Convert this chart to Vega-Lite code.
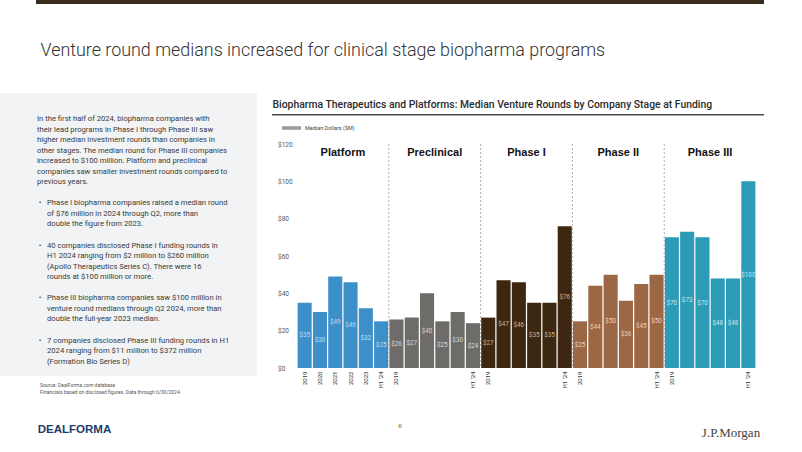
{
  "$schema": "https://vega.github.io/schema/vega-lite/v6.json",
  "background": "white",
  "padding": 0,
  "spacing": 0,
  "config": {"view": {"stroke": null}, "concat": {"spacing": 0}},
  "datasets": {
    "bars": [
      {"stage": "Platform", "period": "2019", "id": "Platform|2019", "value": 35},
      {"stage": "Platform", "period": "2020", "id": "Platform|2020", "value": 30},
      {"stage": "Platform", "period": "2021", "id": "Platform|2021", "value": 49},
      {"stage": "Platform", "period": "2022", "id": "Platform|2022", "value": 46},
      {"stage": "Platform", "period": "2023", "id": "Platform|2023", "value": 32},
      {"stage": "Platform", "period": "H1 '24", "id": "Platform|H1 '24", "value": 25},
      {"stage": "Preclinical", "period": "2019", "id": "Preclinical|2019", "value": 26},
      {"stage": "Preclinical", "period": "2020", "id": "Preclinical|2020", "value": 27},
      {"stage": "Preclinical", "period": "2021", "id": "Preclinical|2021", "value": 40},
      {"stage": "Preclinical", "period": "2022", "id": "Preclinical|2022", "value": 25},
      {"stage": "Preclinical", "period": "2023", "id": "Preclinical|2023", "value": 30},
      {"stage": "Preclinical", "period": "H1 '24", "id": "Preclinical|H1 '24", "value": 24},
      {"stage": "Phase I", "period": "2019", "id": "Phase I|2019", "value": 27},
      {"stage": "Phase I", "period": "2020", "id": "Phase I|2020", "value": 47},
      {"stage": "Phase I", "period": "2021", "id": "Phase I|2021", "value": 46},
      {"stage": "Phase I", "period": "2022", "id": "Phase I|2022", "value": 35},
      {"stage": "Phase I", "period": "2023", "id": "Phase I|2023", "value": 35},
      {"stage": "Phase I", "period": "H1 '24", "id": "Phase I|H1 '24", "value": 76},
      {"stage": "Phase II", "period": "2019", "id": "Phase II|2019", "value": 25},
      {"stage": "Phase II", "period": "2020", "id": "Phase II|2020", "value": 44},
      {"stage": "Phase II", "period": "2021", "id": "Phase II|2021", "value": 50},
      {"stage": "Phase II", "period": "2022", "id": "Phase II|2022", "value": 36},
      {"stage": "Phase II", "period": "2023", "id": "Phase II|2023", "value": 45},
      {"stage": "Phase II", "period": "H1 '24", "id": "Phase II|H1 '24", "value": 50},
      {"stage": "Phase III", "period": "2019", "id": "Phase III|2019", "value": 70},
      {"stage": "Phase III", "period": "2020", "id": "Phase III|2020", "value": 73},
      {"stage": "Phase III", "period": "2021", "id": "Phase III|2021", "value": 70},
      {"stage": "Phase III", "period": "2022", "id": "Phase III|2022", "value": 48},
      {"stage": "Phase III", "period": "2023", "id": "Phase III|2023", "value": 48},
      {"stage": "Phase III", "period": "H1 '24", "id": "Phase III|H1 '24", "value": 100}
    ],
    "stages": [
      {"stage": "Platform"}, {"stage": "Preclinical"}, {"stage": "Phase I"}, {"stage": "Phase II"}, {"stage": "Phase III"}
    ],
    "body": [
      {"line": 0, "indent": 0, "text": "In the first half of 2024, biopharma companies with"},
      {"line": 1, "indent": 0, "text": "their lead programs in Phase I through Phase III saw"},
      {"line": 2, "indent": 0, "text": "higher median investment rounds than companies in"},
      {"line": 3, "indent": 0, "text": "other stages. The median round for Phase III companies"},
      {"line": 4, "indent": 0, "text": "increased to $100 million. Platform and preclinical"},
      {"line": 5, "indent": 0, "text": "companies saw smaller investment rounds compared to"},
      {"line": 6, "indent": 0, "text": "previous years."},
      {"line": 8, "indent": 1, "bullet": "•", "text": "Phase I biopharma companies raised a median round"},
      {"line": 9, "indent": 1, "text": "of $76 million in 2024 through Q2, more than"},
      {"line": 10, "indent": 1, "text": "double the figure from 2023."},
      {"line": 12, "indent": 1, "bullet": "•", "text": "40 companies disclosed Phase I funding rounds in"},
      {"line": 13, "indent": 1, "text": "H1 2024 ranging from $2 million to $260 million"},
      {"line": 14, "indent": 1, "text": "(Apollo Therapeutics Series C). There were 16"},
      {"line": 15, "indent": 1, "text": "rounds at $100 million or more."},
      {"line": 17, "indent": 1, "bullet": "•", "text": "Phase III biopharma companies saw $100 million in"},
      {"line": 18, "indent": 1, "text": "venture round medians through Q2 2024, more than"},
      {"line": 19, "indent": 1, "text": "double the full-year 2023 median."},
      {"line": 21, "indent": 1, "bullet": "•", "text": "7 companies disclosed Phase III funding rounds in H1"},
      {"line": 22, "indent": 1, "text": "2024 ranging from $11 million to $372 million"},
      {"line": 23, "indent": 1, "text": "(Formation Bio Series D)"}
    ]
  },
  "vconcat": [
    {"spacing": 0, "hconcat": [
      {"width": 36, "height": 4, "data": {"values": [{}]}, "mark": {"type": "rect", "opacity": 0}, "encoding": {}},
      {"width": 728, "height": 4, "data": {"values": [{}]}, "mark": {"type": "rect", "color": "#3a2c1c"}, "encoding": {}}
    ]},
    {"spacing": 0, "hconcat": [
      {"width": 40, "height": 89, "data": {"values": [{}]}, "mark": {"type": "rect", "opacity": 0}, "encoding": {}},
      {"width": 1, "height": 89, "data": {"values": [{"t": "Venture round medians increased for clinical stage biopharma programs"}]},
       "mark": {"type": "text", "align": "left", "baseline": "middle", "dy": 2.2, "font": "Roboto", "fontSize": 17.9, "fontWeight": 300, "color": "#333333"},
       "encoding": {"text": {"field": "t"}}}
    ]},
    {"spacing": 0, "hconcat": [
      {"width": 257, "height": 305,
       "layer": [
         {"data": {"values": [{}]},
          "mark": {"type": "rect", "color": "#f2f3f4"},
          "encoding": {
            "x": {"datum": -3.7, "type": "quantitative", "scale": {"domain": [-3.7, 22], "nice": false, "zero": false}, "axis": null},
            "x2": {"datum": 22},
            "y": {"datum": -2.46, "type": "quantitative", "scale": {"domain": [-2.46, 26.45], "nice": false, "zero": false, "reverse": true}, "axis": null},
            "y2": {"datum": 24.36}
          }},
         {"data": {"name": "body"},
          "mark": {"type": "text", "align": "left", "baseline": "middle", "font": "Roboto", "fontSize": 7.65, "color": "#3a3a3a"},
          "encoding": {
            "x": {"field": "indent", "type": "quantitative"},
            "y": {"field": "line", "type": "quantitative"},
            "text": {"field": "text"}
          }},
         {"data": {"name": "body"},
          "transform": [{"filter": "datum.bullet"}],
          "mark": {"type": "text", "align": "center", "baseline": "middle", "font": "Roboto", "fontSize": 7.65, "color": "#3a3a3a"},
          "encoding": {
            "x": {"datum": 0.3, "type": "quantitative"},
            "y": {"field": "line", "type": "quantitative"},
            "text": {"field": "bullet"}
          }},
         {"data": {"values": [{"line": 25, "text": ["Source: DealForma.com database", "Financials based on disclosed figures. Data through 6/30/2024."]}]},
          "mark": {"type": "text", "align": "left", "baseline": "top", "font": "Roboto", "fontSize": 5, "lineHeight": 7.4, "color": "#555555"},
          "encoding": {
            "x": {"datum": 0.3, "type": "quantitative"},
            "y": {"field": "line", "type": "quantitative"},
            "text": {"field": "text"}
          }}
       ]},
      {"width": 15, "height": 10, "data": {"values": [{}]}, "mark": {"type": "rect", "opacity": 0}, "encoding": {}},
      {"spacing": 0, "vconcat": [
        {"width": 1, "height": 21, "data": {"values": [{"t": "Biopharma Therapeutics and Platforms: Median Venture Rounds by Company Stage at Funding"}]},
         "mark": {"type": "text", "align": "left", "baseline": "middle", "dy": 1.5, "font": "Roboto", "fontSize": 10.4, "fontWeight": 500, "color": "#2b2b2b"},
         "encoding": {"text": {"field": "t"}}},
        {"width": 492, "height": 1.5, "data": {"values": [{}]}, "mark": {"type": "rect", "color": "#4a4a4a"}, "encoding": {}},
        {"width": 492, "height": 24.5, "data": {"values": [{}]}, "mark": {"type": "rect", "opacity": 0}, "encoding": {}},
        {"spacing": 0, "hconcat": [
          {"width": 4.5, "height": 10, "data": {"values": [{}]}, "mark": {"type": "rect", "opacity": 0}, "encoding": {}},
          {"width": 459, "height": 224,
           "layer": [
             {"data": {"name": "bars"},
              "mark": {"type": "bar"},
              "encoding": {
                "x": {"field": "id", "type": "nominal", "sort": null,
                      "scale": {"type": "band", "paddingInner": 0.08, "paddingOuter": 0.04},
                      "axis": {"title": null, "labelAngle": 270, "ticks": false, "domain": false, "labelOverlap": false,
                               "labelExpr": "indexof(datum.value, 'Platform') == 0 || indexof(datum.value, '|2019') > 0 || indexof(datum.value, '|H1') > 0 ? split(datum.value, '|')[1] : ''",
                               "labelFontSize": 6, "labelFont": "Roboto", "labelColor": "#333333", "labelPadding": 3}},
                "y": {"field": "value", "type": "quantitative", "scale": {"domain": [0, 120], "nice": false},
                      "axis": {"title": null, "values": [0, 20, 40, 60, 80, 100, 120], "format": "$d", "ticks": false, "domain": false, "grid": false,
                               "labelAlign": "left", "labelPadding": 19.5, "labelFontSize": 6.5, "labelFont": "Roboto", "labelColor": "#555555"}},
                "fill": {"field": "stage", "type": "nominal",
                         "scale": {"domain": ["Platform", "Preclinical", "Phase I", "Phase II", "Phase III"], "range": ["#3d8fc9", "#6d6c69", "#3d2711", "#9b6744", "#2b9bb6"]},
                         "legend": null}
              }},
             {"data": {"name": "bars"},
              "mark": {"type": "text", "baseline": "middle", "fontSize": 6.3, "font": "Roboto"},
              "encoding": {
                "x": {"field": "id", "type": "nominal", "sort": null, "scale": {"type": "band", "paddingInner": 0.08, "paddingOuter": 0.04}, "axis": null},
                "y": {"field": "value", "type": "quantitative", "scale": {"domain": [0, 240], "nice": false}, "axis": null},
                "text": {"field": "value", "type": "quantitative", "format": "$d"},
                "fill": {"field": "stage", "type": "nominal",
                         "scale": {"domain": ["Platform", "Preclinical", "Phase I", "Phase II", "Phase III"], "range": ["#bfdcf2", "#d6d6d6", "#cdb392", "#eed2bb", "#c0e8f2"]},
                         "legend": null}
              }},
             {"data": {"name": "stages"},
              "transform": [{"filter": "datum.stage != 'Platform'"}],
              "mark": {"type": "rule", "strokeDash": [2, 2], "color": "#b0b0b0", "strokeWidth": 1},
              "encoding": {
                "x": {"field": "stage", "type": "nominal", "sort": null, "bandPosition": 0,
                      "scale": {"type": "band", "domain": ["Platform", "Preclinical", "Phase I", "Phase II", "Phase III"], "paddingInner": 0, "paddingOuter": 0}, "axis": null}
              }},
             {"data": {"name": "stages"},
              "mark": {"type": "text", "font": "Liberation Sans", "fontWeight": "bold", "fontSize": 11, "baseline": "middle", "color": "#111111"},
              "encoding": {
                "x": {"field": "stage", "type": "nominal", "sort": null,
                      "scale": {"type": "band", "domain": ["Platform", "Preclinical", "Phase I", "Phase II", "Phase III"], "paddingInner": 0, "paddingOuter": 0}, "axis": null},
                "y": {"datum": 115, "type": "quantitative", "scale": {"domain": [0, 120], "nice": false}, "axis": null},
                "text": {"field": "stage"}
              }},
             {"data": {"values": [{"series": "Median Dollars ($M)"}]},
              "mark": {"type": "bar", "opacity": 0},
              "encoding": {
                "color": {"field": "series", "type": "nominal", "scale": {"range": ["#9b9b9b"]},
                          "legend": {"title": null, "orient": "none", "legendX": 282, "legendY": 118.5,
                                     "symbolType": "M-1,-0.185H1V0.185H-1Z", "symbolSize": 361, "symbolStrokeWidth": 0, "symbolOpacity": 1,
                                     "labelFontSize": 5.5, "labelFont": "Roboto", "labelColor": "#444444", "labelOffset": 4, "padding": 0}}
              }}
           ],
           "resolve": {"scale": {"x": "independent", "y": "independent", "fill": "independent"}}
          }
        ]}
      ]}
    ]},
    {"spacing": 0, "hconcat": [
      {"width": 37, "height": 54, "data": {"values": [{}]}, "mark": {"type": "rect", "opacity": 0}, "encoding": {}},
      {"width": 75, "height": 54, "data": {"values": [{"t": "DEALFORMA"}]},
       "mark": {"type": "text", "align": "center", "baseline": "middle", "dy": 5, "font": "Liberation Sans", "fontWeight": "bold", "fontSize": 11.5, "color": "#1d3b6e"},
       "encoding": {"text": {"field": "t"}}},
      {"width": 282, "height": 54, "data": {"values": [{}]}, "mark": {"type": "rect", "opacity": 0}, "encoding": {}},
      {"width": 12, "height": 54, "data": {"values": [{"t": "6"}]},
       "mark": {"type": "text", "align": "center", "baseline": "middle", "dy": 1, "font": "Liberation Serif", "fontSize": 7, "color": "#555555"},
       "encoding": {"text": {"field": "t"}}},
      {"width": 294, "height": 54, "data": {"values": [{}]}, "mark": {"type": "rect", "opacity": 0}, "encoding": {}},
      {"width": 62, "height": 54, "data": {"values": [{"t": "J.P.Morgan"}]},
       "mark": {"type": "text", "align": "center", "baseline": "middle", "dy": 8, "font": "Liberation Serif", "fontSize": 13, "color": "#444444"},
       "encoding": {"text": {"field": "t"}}}
    ]}
  ]
}
